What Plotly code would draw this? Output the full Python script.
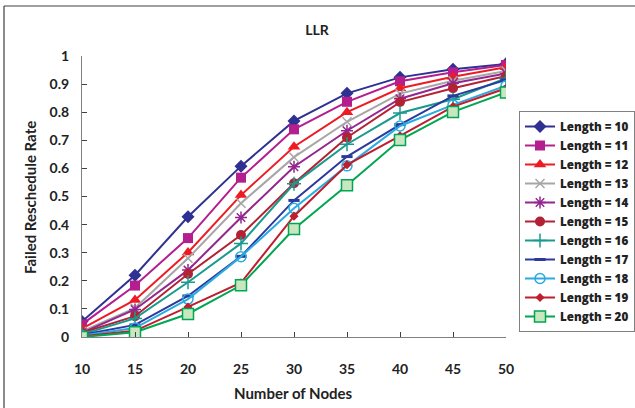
import plotly.graph_objects as go

nodes = [10, 15, 20, 25, 30, 35, 40, 45, 50]

len10 = [0.055, 0.220, 0.428, 0.608, 0.769, 0.867, 0.924, 0.953, 0.972]
len11 = [0.045, 0.183, 0.352, 0.567, 0.739, 0.837, 0.910, 0.942, 0.968]
len12 = [0.030, 0.132, 0.301, 0.505, 0.677, 0.800, 0.885, 0.926, 0.960]
len13 = [0.020, 0.103, 0.280, 0.476, 0.640, 0.766, 0.866, 0.912, 0.947]
len14 = [0.015, 0.098, 0.238, 0.425, 0.606, 0.734, 0.848, 0.903, 0.938]
len15 = [0.015, 0.074, 0.224, 0.363, 0.547, 0.710, 0.836, 0.885, 0.929]
len16 = [0.010, 0.066, 0.195, 0.333, 0.545, 0.686, 0.797, 0.846, 0.921]
len17 = [0.008, 0.043, 0.146, 0.287, 0.486, 0.642, 0.756, 0.858, 0.915]
len18 = [0.005, 0.032, 0.135, 0.286, 0.458, 0.609, 0.751, 0.826, 0.894]
len19 = [0.003, 0.022, 0.107, 0.193, 0.430, 0.613, 0.716, 0.820, 0.885]
len20 = [0.000, 0.017, 0.082, 0.184, 0.384, 0.540, 0.701, 0.801, 0.870]

names = ["Length = %d" % n for n in range(10, 21)]
series = [len10, len11, len12, len13, len14, len15, len16, len17, len18, len19, len20]

# (line colour, marker symbol, marker size, marker fill, marker outline, outline width)
styles = [
    ("#2E3192", "diamond", 10, "#2E3192", "#2E3192", 0),
    ("#B41E8E", "square", 10, "#B41E8E", "#B41E8E", 0),
    ("#ED1C24", "triangle-up", 11, "#ED1C24", "#ED1C24", 0),
    ("#A6A6A6", "x-thin-open", 9, "#A6A6A6", "#A6A6A6", 1.5),
    ("#93278F", "asterisk-open", 10, "#93278F", "#93278F", 1.5),
    ("#B22234", "circle", 10, "#B22234", "#B22234", 0),
    ("#1A9A8E", "cross-thin-open", 10, "#1A9A8E", "#1A9A8E", 1.5),
    ("#2B3A9C", "line-ew-open", 8, "#2B3A9C", "#2B3A9C", 3),
    ("#29ABE2", "circle-open", 10, "#29ABE2", "#29ABE2", 1.5),
    ("#BE1E2D", "diamond", 7, "#BE1E2D", "#BE1E2D", 0),
    ("#00A651", "square", 11, "#C8E6C0", "#00A651", 1.5),
]

fig = go.Figure()
for name, ys, (lc, sym, sz, fill, edge, ew) in zip(names, series, styles):
    fig.add_trace(go.Scatter(
        x=nodes, y=ys, name=name, mode="lines+markers",
        line=dict(color=lc, width=2),
        marker=dict(symbol=sym, size=sz, color=fill, line=dict(color=edge, width=ew)),
    ))

font_family = "Lato, 'Open Sans', sans-serif"

fig.update_layout(
    width=635, height=408,
    margin=dict(l=82, r=129, t=56, b=71, autoexpand=False),
    paper_bgcolor="white", plot_bgcolor="white",
    font=dict(family=font_family, size=14, color="#222222", weight="bold"),
    title=dict(text="LLR", x=317 / 635, xanchor="center", y=1 - 30 / 408, yanchor="middle",
               font=dict(size=14, weight="bold", family=font_family)),
    showlegend=True,
    legend=dict(
        xref="container", yref="container",
        x=519 / 635, xanchor="left", y=1 - 111 / 408, yanchor="top",
        maxheight=300,
        bordercolor="#808080", borderwidth=1, bgcolor="white",
        font=dict(size=11.6, weight=800, family="'Open Sans', sans-serif"),
        tracegroupgap=0, itemwidth=30,
    ),
    xaxis=dict(
        range=[10, 50], tickmode="array", tickvals=nodes, ticktext=[str(v) for v in nodes],
        showgrid=False, zeroline=False, showline=True, linecolor="#808080", linewidth=1,
        ticks="inside", ticklen=5, tickcolor="#404040", ticklabelstandoff=19,
        tickfont=dict(size=14, weight="bold", family=font_family),
    ),
    yaxis=dict(
        range=[0, 1], dtick=0.1, tick0=0,
        showgrid=False, zeroline=False, showline=True, linecolor="#808080", linewidth=1,
        ticks="inside", ticklen=5, tickcolor="#404040", ticklabelstandoff=9,
        tickfont=dict(size=14, weight="bold", family=font_family),
    ),
    annotations=[
        dict(text="Failed Reschedule Rate", xref="paper", yref="paper",
             x=(30 - 82) / 424, y=(337 - 198) / 281, xanchor="center", yanchor="middle",
             textangle=-90, showarrow=False, font=dict(size=15, weight="bold", family=font_family)),
        dict(text="Number of Nodes", xref="paper", yref="paper",
             x=(293 - 82) / 424, y=(337 - 393) / 281, xanchor="center", yanchor="middle",
             showarrow=False, font=dict(size=15, weight="bold", family=font_family)),
    ],
    shapes=[
        dict(type="line", xref="paper", yref="paper",
             x0=(4 - 82) / 424, x1=(4 - 82) / 424, y0=(337 - 6) / 281, y1=(337 - 420) / 281,
             line=dict(color="#404040", width=1.2)),
        dict(type="line", xref="paper", yref="paper",
             x0=(4 - 82) / 424, x1=(640 - 82) / 424, y0=(337 - 6) / 281, y1=(337 - 6) / 281,
             line=dict(color="#404040", width=1.2)),
    ],
)

fig.write_html("out.html")
